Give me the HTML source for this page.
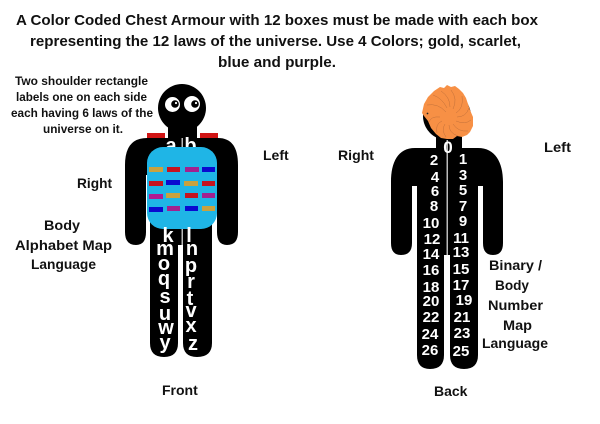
<!DOCTYPE html>
<html>
<head>
<meta charset="utf-8">
<style>
html,body{margin:0;padding:0;background:#fff;width:600px;height:424px;overflow:hidden}
svg{display:block}
text{font-family:"Liberation Sans",sans-serif;font-weight:bold}
.t{font-size:15px;fill:#111}
.s{font-size:11.5px;fill:#111}
.l{font-size:14px;fill:#111}
.w{font-size:20px;fill:#fff;text-anchor:middle}
.n{font-size:15px;fill:#fff;text-anchor:middle}
</style>
</head>
<body>
<svg width="600" height="424" viewBox="0 0 600 424" xmlns="http://www.w3.org/2000/svg">
<rect width="600" height="424" fill="#fff"/>

<text class="t" x="16" y="25" textLength="522" lengthAdjust="spacingAndGlyphs">A Color Coded Chest Armour with 12 boxes must be made with each box</text>
<text class="t" x="30" y="46" textLength="491" lengthAdjust="spacingAndGlyphs">representing the 12 laws of the universe. Use 4 Colors; gold, scarlet,</text>
<text class="t" x="218" y="67" textLength="118" lengthAdjust="spacingAndGlyphs">blue and purple.</text>

<text class="s" x="15" y="85" textLength="133" lengthAdjust="spacingAndGlyphs">Two shoulder rectangle</text>
<text class="s" x="16" y="101" textLength="131" lengthAdjust="spacingAndGlyphs">labels one on each side</text>
<text class="s" x="11" y="117" textLength="142" lengthAdjust="spacingAndGlyphs">each having 6 laws of the</text>
<text class="s" x="43" y="133" textLength="80" lengthAdjust="spacingAndGlyphs">universe on it.</text>

<!-- Front figure -->
<g fill="#000">
<circle cx="182" cy="108" r="24"/>
<rect x="168" y="122" width="29" height="22"/>
<path d="M147 138H218Q238 138 238 165V232Q238 245 227 245Q217 245 217 232V245H212V343Q212 357 197 357Q183 357 183 343V245H178V343Q178 357 164 357Q150 357 150 343V245H146V232Q146 245 136 245Q125 245 125 232V165Q125 138 147 138Z"/>
</g>
<rect x="146" y="175" width="4" height="70" fill="#fff"/>
<rect x="212" y="175" width="5" height="70" fill="#fff"/>
<rect x="181.500" y="138" width="1.500" height="107" fill="#bbb"/>
<rect x="147" y="133" width="18" height="5" fill="#d01414"/>
<rect x="200" y="133" width="18" height="5" fill="#d01414"/>
<ellipse cx="172.500" cy="104.500" rx="7.500" ry="7.500" fill="#fff"/>
<ellipse cx="192" cy="104" rx="8" ry="8" fill="#fff"/>
<circle cx="175" cy="104" r="3.800" fill="#000"/>
<circle cx="195" cy="104" r="3.800" fill="#000"/>
<circle cx="176" cy="103" r="1.100" fill="#fff"/>
<circle cx="196" cy="103" r="1.100" fill="#fff"/>

<text class="w" x="171" y="152">a</text>
<text class="w" x="190.500" y="152">b</text>

<rect x="147" y="147" width="70" height="82" rx="16" fill="#1fb5e6"/>
<g>
<rect x="149" y="167" width="14" height="5" fill="#c9a23f"/>
<rect x="167" y="167" width="13" height="5" fill="#c5141f"/>
<rect x="185" y="167" width="14" height="5" fill="#a3218f"/>
<rect x="202" y="167" width="13" height="5" fill="#0a0ad0"/>
<rect x="149" y="181" width="14" height="5" fill="#c5141f"/>
<rect x="166" y="180" width="14" height="5" fill="#0a0ad0"/>
<rect x="184" y="181" width="14" height="5" fill="#c9a23f"/>
<rect x="202" y="181" width="13" height="5" fill="#c5141f"/>
<rect x="149" y="194" width="14" height="5" fill="#b01b92"/>
<rect x="166" y="193" width="14" height="5" fill="#c9a23f"/>
<rect x="185" y="193" width="13" height="5" fill="#c5141f"/>
<rect x="202" y="193" width="13" height="5" fill="#a3218f"/>
<rect x="149" y="207" width="14" height="5" fill="#0a0ad0"/>
<rect x="167" y="206" width="13" height="5" fill="#a3218f"/>
<rect x="185" y="206" width="13" height="5" fill="#0a0ad0"/>
<rect x="202" y="206" width="13" height="5" fill="#c9a23f"/>
</g>

<g>
<text class="w" x="168" y="242">k</text><text class="w" x="189" y="242">l</text>
<text class="w" x="165" y="255">m</text><text class="w" x="192" y="255">n</text>
<text class="w" x="164" y="270">o</text><text class="w" x="191" y="272">p</text>
<text class="w" x="164" y="285">q</text><text class="w" x="191" y="288">r</text>
<text class="w" x="165" y="303">s</text><text class="w" x="190" y="305">t</text>
<text class="w" x="165" y="320">u</text><text class="w" x="191" y="317">v</text>
<text class="w" x="166" y="334">w</text><text class="w" x="191" y="332">x</text>
<text class="w" x="165" y="349">y</text><text class="w" x="193" y="350">z</text>
</g>

<text class="l" x="263" y="160">Left</text>
<text class="l" x="77" y="188" textLength="35" lengthAdjust="spacingAndGlyphs">Right</text>
<text class="l" x="44" y="230" textLength="36" lengthAdjust="spacingAndGlyphs">Body</text>
<text class="l" x="15" y="250" textLength="97" lengthAdjust="spacingAndGlyphs">Alphabet Map</text>
<text class="l" x="31" y="269" textLength="65" lengthAdjust="spacingAndGlyphs">Language</text>
<text class="l" x="162" y="395">Front</text>

<!-- Back figure -->
<g fill="#000">
<circle cx="447" cy="116" r="24"/>
<rect x="436" y="130" width="26" height="22"/>
<path d="M415 148H478C495 148 503 162 503 182V243Q503 255 493 255Q483 255 483 243V186H478V355Q478 369 464 369Q450 369 450 355V255H444V355Q444 369 430 369Q417 369 417 355V186H412V243Q412 255 401 255Q391 255 391 243V182C391 162 398 148 415 148Z"/>
</g>
<rect x="446.500" y="140" width="1.500" height="115" fill="#bbb"/>

<!-- Hair -->
<path d="M422 113L424 104L428 97L434 91L440 87L444 88L447 85L451 87L455 86L459 89L463 93L466 98L468 104L470 110L473 117L473 126L470 132L467 135L462 137L457 136L453 139L447 139L441 138L436 134L431 128L428 121L424 116Z" fill="#f79045"/>
<g fill="none" stroke="#c2703a" stroke-width=".5">
<path d="M446 112Q438 103 427 105"/><path d="M447 108Q442 98 433 95"/><path d="M450 107Q450 97 441 91"/>
<path d="M453 109Q458 99 451 90"/><path d="M456 113Q464 108 462 96"/><path d="M457 117Q466 117 469 108"/>
<path d="M456 121Q465 125 471 120"/><path d="M453 124Q458 132 468 131"/><path d="M449 125Q449 133 458 136"/>
<path d="M445 124Q441 130 446 137"/><path d="M442 121Q435 124 437 133"/><path d="M440 117Q431 116 429 122"/>
</g>
<circle cx="427.500" cy="113.500" r=".9" fill="#222"/>

<g>
<text class="n" x="448" y="153" style="font-size:17px">0</text>
<text class="n" x="434" y="165">2</text><text class="n" x="463" y="164">1</text>
<text class="n" x="435" y="182">4</text><text class="n" x="463" y="180">3</text>
<text class="n" x="435" y="196">6</text><text class="n" x="463" y="195">5</text>
<text class="n" x="434" y="211">8</text><text class="n" x="463" y="211">7</text>
<text class="n" x="431" y="228">10</text><text class="n" x="463" y="226">9</text>
<text class="n" x="432" y="244">12</text><text class="n" x="461" y="243">11</text>
<text class="n" x="431" y="259">14</text><text class="n" x="461" y="257">13</text>
<text class="n" x="431" y="275">16</text><text class="n" x="461" y="274">15</text>
<text class="n" x="431" y="292">18</text><text class="n" x="461" y="290">17</text>
<text class="n" x="431" y="306">20</text><text class="n" x="464" y="305">19</text>
<text class="n" x="431" y="322">22</text><text class="n" x="462" y="322">21</text>
<text class="n" x="430" y="339">24</text><text class="n" x="462" y="338">23</text>
<text class="n" x="430" y="355">26</text><text class="n" x="461" y="356">25</text>
</g>

<text class="l" x="338" y="160" textLength="36" lengthAdjust="spacingAndGlyphs">Right</text>
<text class="l" x="544" y="152" textLength="27" lengthAdjust="spacingAndGlyphs">Left</text>
<text class="l" x="489" y="270" textLength="53" lengthAdjust="spacingAndGlyphs">Binary /</text>
<text class="l" x="495" y="290" textLength="34" lengthAdjust="spacingAndGlyphs">Body</text>
<text class="l" x="488" y="310" textLength="55" lengthAdjust="spacingAndGlyphs">Number</text>
<text class="l" x="503" y="330" textLength="29" lengthAdjust="spacingAndGlyphs">Map</text>
<text class="l" x="482" y="348" textLength="66" lengthAdjust="spacingAndGlyphs">Language</text>
<text class="l" x="434" y="396">Back</text>
</svg>
</body>
</html>
